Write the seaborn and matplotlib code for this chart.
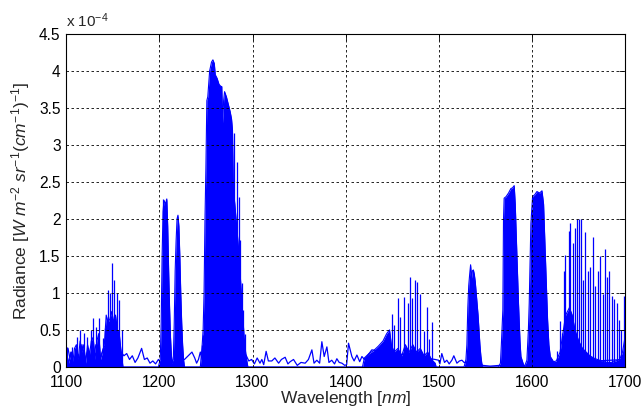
import numpy as np
import matplotlib
matplotlib.use("Agg")
import matplotlib.pyplot as plt
import seaborn as sns
from matplotlib.ticker import FormatStrFormatter, MultipleLocator

# radiance values are in units of 1e-4 W m-2 sr-1 (cm-1)-1, wavelength in nm

# filled absorption/emission band envelopes (zero between bands)
fill_wl = [1100, 1101, 1103, 1105, 1107, 1109, 1111, 1113, 1115, 1117, 1119, 1121, 1123,
           1125, 1127, 1129, 1131, 1133, 1135, 1137, 1139, 1141, 1143, 1145, 1147, 1149,
           1151, 1153, 1155, 1157, 1159, 1161,
           1199, 1201, 1202, 1203, 1204, 1205, 1207, 1208, 1209, 1210, 1211, 1212, 1213,
           1214, 1215, 1216, 1217, 1218, 1219, 1220, 1221, 1222, 1223, 1224, 1225, 1226, 1227,
           1244, 1246, 1247, 1248, 1249, 1250, 1251, 1252, 1254, 1256, 1257.5, 1259, 1260,
           1262, 1264, 1266, 1267, 1268, 1269, 1270, 1272, 1274, 1276, 1277.5, 1278.5,
           1279.5, 1281, 1283, 1285, 1287, 1289, 1291, 1293, 1295,
           1418, 1420, 1425, 1430, 1435, 1440, 1444, 1447, 1449, 1452, 1456, 1460, 1464,
           1468, 1472, 1476, 1480, 1484, 1488, 1492, 1496, 1497,
           1527, 1529, 1530, 1531, 1532, 1533, 1534, 1535, 1536, 1537, 1538, 1539, 1540,
           1541, 1542, 1543, 1544, 1545, 1546, 1547,
           1564, 1566, 1567, 1568.6, 1569.3, 1570, 1572, 1574.7, 1577.2, 1579, 1580.8,
           1581.9, 1583.6, 1585.4, 1587, 1588, 1590.8, 1592, 1594.4, 1596, 1596.9, 1598.7,
           1600.5, 1603, 1605.2, 1608, 1610.6, 1612.3, 1614.1, 1616.6, 1618, 1619.5, 1623,
           1626, 1630, 1633, 1636, 1640, 1643, 1646, 1650, 1654, 1658, 1662, 1666, 1670,
           1675, 1680, 1685, 1690, 1694, 1697, 1699, 1700]
fill_val = [0.0, 0.15, 0.05, 0.2, 0.05, 0.25, 0.3, 0.1, 0.35, 0.2, 0.3, 0.05, 0.3,
            0.15, 0.35, 0.4, 0.1, 0.35, 0.45, 0.1, 0.2, 0.3, 0.7, 0.6, 0.65, 0.75,
            0.6, 0.7, 0.5, 0.45, 0.2, 0.0,
            0.0, 0.1, 0.6, 1.5, 2.1, 2.25, 2.2, 2.27, 1.9, 1.3, 0.8, 0.4, 0.15,
            0.05, 0.1, 0.6, 1.3, 1.7, 2.0, 2.05, 1.9, 1.5, 1.0, 0.6, 0.3, 0.1, 0.0,
            0.0, 0.3, 0.5, 1.0, 2.0, 2.7, 3.6, 3.65, 4.0, 4.12, 4.15, 4.1, 3.95,
            3.9, 3.82, 3.79, 3.79, 3.3, 3.6, 3.72, 3.65, 3.55, 3.45, 3.35, 3.2,
            2.4, 2.2, 1.9, 1.6, 1.2, 0.8, 0.4, 0.15, 0.0,
            0.0, 0.12, 0.18, 0.22, 0.28, 0.35, 0.45, 0.5, 0.3, 0.2, 0.25, 0.15, 0.3,
            0.2, 0.3, 0.2, 0.25, 0.15, 0.2, 0.1, 0.05, 0.0,
            0.0, 0.1, 0.3, 0.8, 1.1, 1.25, 1.38, 1.2, 1.3, 1.31, 1.25, 1.15, 1.0,
            0.85, 0.7, 0.5, 0.3, 0.15, 0.05, 0.0,
            0.0, 0.05, 0.3, 0.77, 1.99, 2.28, 2.3, 2.35, 2.41, 2.42, 2.45,
            2.2, 1.54, 0.86, 0.35, 0.14, 0.03, 0.01, 0.09, 0.5, 0.86, 1.94,
            2.3, 2.33, 2.37, 2.35, 2.38, 2.2, 1.54, 0.64, 0.3, 0.14, 0.07,
            0.08, 0.2, 0.45, 0.7, 0.8, 0.7, 0.5, 0.35, 0.25, 0.2, 0.15, 0.12, 0.1,
            0.08, 0.06, 0.06, 0.08, 0.1, 0.2, 0.35, 0.45]

# individual narrow spectral lines
line_wl = [1101.4, 1106.1, 1111.4, 1115, 1119.3, 1122.9, 1126.5, 1129.3, 1132.2, 1135.7,
           1139.3, 1141.9, 1144.7, 1147.2, 1149.7, 1151.8, 1154.4, 1157.2, 1159.8,
           1204.4, 1207.3, 1245.6, 1247.4,
           1280.6, 1283.1, 1285.3, 1286.7, 1288.5, 1290.3, 1292,
           1449.5, 1452, 1455.6, 1458.4, 1463, 1466.3, 1469.1, 1471.6, 1474.5, 1477,
           1479.9, 1483.5, 1487.1, 1489.6, 1492.5,
           1626.6, 1630.2, 1632, 1633.7, 1635.5, 1639.1, 1640.9, 1643.4, 1646.3, 1648.1,
           1649.8, 1652.7, 1654.1, 1657, 1659.9, 1662.4, 1664.9, 1667.8, 1670.3, 1673.1,
           1675.6, 1677.8, 1680.3, 1682.8, 1685.6, 1688.1, 1691, 1692.8, 1695, 1699.1]
line_val = [0.27, 0.27, 0.41, 0.5, 0.46, 0.41, 0.5, 0.66, 0.54, 0.66,
            0.39, 0.52, 1.04, 1.0, 1.41, 1.18, 1.0, 0.9, 0.5,
            2.27, 2.27, 0.3, 0.43,
            3.16, 2.77, 2.3, 1.72, 1.13, 0.77, 0.45,
            0.72, 0.56, 0.93, 0.68, 0.95, 0.86, 1.22, 0.93, 1.17, 1.15,
            0.99, 0.48, 0.81, 0.37, 0.6,
            0.21, 0.62, 0.46, 1.3, 1.51, 1.84, 1.95, 1.68, 1.88, 2.0,
            2.0, 2.0, 1.18, 1.82, 1.3, 1.35, 1.76, 1.09, 1.3, 1.5,
            0.98, 1.59, 1.21, 1.3, 0.96, 0.92, 0.86, 0.63, 0.5, 0.96]

# low-level continuum / noise trace
noise_wl = [1100, 1102, 1104, 1106, 1108, 1111, 1114, 1117, 1120, 1124, 1128, 1132, 1136,
            1140, 1145, 1150, 1155, 1159, 1162, 1165, 1168, 1171, 1174, 1177, 1181, 1184,
            1187, 1190, 1193, 1196, 1199, 1202, 1213, 1216, 1227, 1231, 1235, 1238, 1240,
            1242, 1244, 1246, 1293, 1296, 1299, 1302, 1305, 1308, 1310, 1312, 1314.6, 1317,
            1320.7, 1324, 1328, 1331, 1335, 1338, 1340.4, 1344, 1348, 1352, 1356.5, 1360,
            1363.7, 1366, 1369, 1372, 1374.4, 1376.9, 1379.8, 1382, 1385, 1388, 1390.5,
            1393, 1395.9, 1399, 1401, 1403, 1406.6, 1409, 1412, 1415, 1417.4, 1420, 1422.7,
            1428, 1496, 1499.6, 1501, 1503.1, 1506, 1508.5, 1511, 1513.9, 1516, 1519.3,
            1522, 1524.7, 1527, 1547, 1555, 1565, 1592, 1622, 1700]
noise_val = [0.1, 0.25, 0.12, 0.2, 0.03, 0.15, 0.05, 0.3, 0.08, 0.25, 0.05, 0.3, 0.1,
             0.25, 0.35, 0.3, 0.4, 0.2, 0.15, 0.18, 0.1, 0.15, 0.06, 0.12, 0.25, 0.1,
             0.12, 0.05, 0.08, 0.04, 0.1, 0.05, 0.1, 0.05, 0.1, 0.15, 0.2, 0.12, 0.05,
             0.1, 0.2, 0.1, 0.16, 0.08, 0.1, 0.04, 0.12, 0.05, 0.1, 0.03, 0.21, 0.08,
             0.08, 0.12, 0.05, 0.1, 0.13, 0.04, 0.07, 0.1, 0.02, 0.06, 0.05, 0.1,
             0.23, 0.05, 0.09, 0.05, 0.34, 0.14, 0.27, 0.06, 0.09, 0.04, 0.11,
             0.06, 0.05, 0.02, 0.03, 0.32, 0.14, 0.08, 0.16, 0.07, 0.14, 0.1, 0.14,
             0.23, 0.1, 0.09, 0.04, 0.18, 0.06, 0.09, 0.04, 0.09, 0.15, 0.05,
             0.08, 0.09, 0.06, 0.02, 0.01, 0.02, 0.01, 0.05, 0.1]

x_ticks = [1100, 1200, 1300, 1400, 1500, 1600, 1700]

sns.set_style("white")
plt.rcParams['font.family'] = ['Liberation Sans', 'DejaVu Sans']
plt.rcParams['mathtext.fontset'] = 'custom'
plt.rcParams['mathtext.rm'] = 'Liberation Sans'
plt.rcParams['mathtext.it'] = 'Liberation Sans:italic'

blue = (0, 0, 1)
fig, ax = plt.subplots(figsize=(6.42, 4.09), dpi=100)
fig.subplots_adjust(left=0.103, right=0.974, bottom=0.103, top=0.917)

ax.fill_between(fill_wl, 0, fill_val, color=blue, linewidth=0)
sns.lineplot(x=fill_wl, y=fill_val, color=blue, lw=0.8, ax=ax, sort=False, estimator=None)
sns.lineplot(x=noise_wl, y=noise_val, color=blue, lw=0.9, ax=ax, sort=False, estimator=None)
ax.vlines(line_wl, 0, line_val, color=blue, lw=0.9)

ax.set_xlim(1100, 1700)
ax.set_ylim(0, 4.5)
ax.set_xticks(x_ticks)
ax.yaxis.set_major_locator(MultipleLocator(0.5))
ax.yaxis.set_major_formatter(FormatStrFormatter('%g'))
ax.grid(True, color='black', linestyle=(0, (3, 3)), linewidth=0.6)
ax.set_axisbelow(False)
for s in ax.spines.values():
    s.set_color('black')
    s.set_linewidth(0.8)
ax.tick_params(direction='in', top=True, right=True, length=4, width=0.6,
               labelsize=11.2, colors='black')
ax.tick_params(axis='x', pad=6)
ax.tick_params(axis='y', pad=4)

ax.set_xlabel(r'Wavelength [$nm$]', fontsize=12.5, labelpad=-1)
ax.set_ylabel(r'Radiance [$W\ m^{-2}\ sr^{-1}(cm^{-1})^{-1}$]', fontsize=12.5, labelpad=5)
ax.text(0.0, 1.012, r'x 10$^{-4}$', transform=ax.transAxes, fontsize=11, ha='left', va='bottom')

fig.savefig('out.png', dpi=100, facecolor='white')
